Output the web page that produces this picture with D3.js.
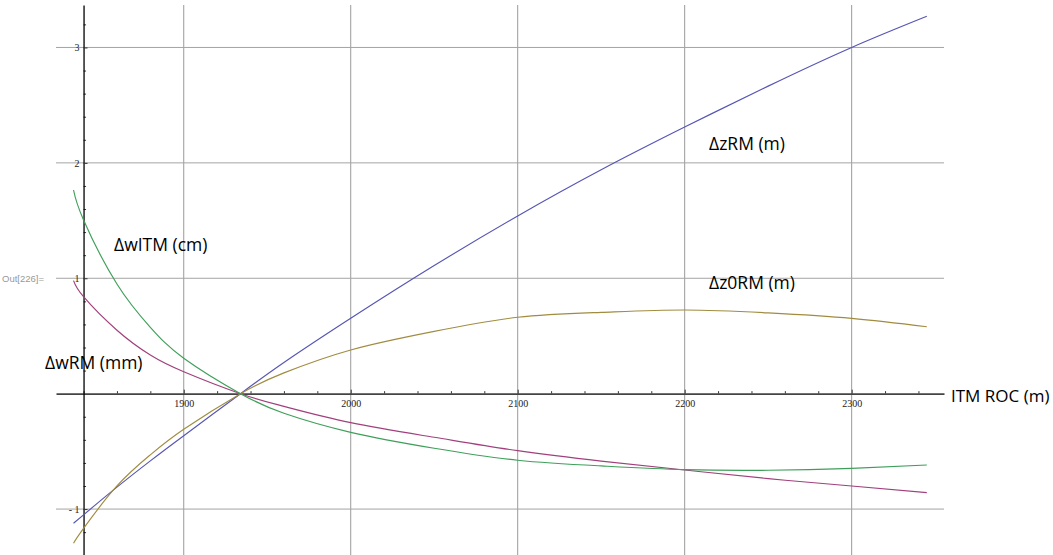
<!DOCTYPE html>
<html>
<head>
<meta charset="utf-8">
<script src="https://cdn.jsdelivr.net/npm/d3@7"></script>
<style>
  html, body { margin: 0; padding: 0; background: #fff; }
  svg { display: block; }
</style>
</head>
<body>
<svg id="chart" width="1053" height="555"></svg>
<script>
// ---- data ----
const roc = [1834, 1840, 1860, 1880, 1900, 1934, 1960, 2000, 2050, 2100, 2150, 2200, 2250, 2300, 2345];
const dzRM   = [-1.123, -1.05, -0.81, -0.582, -0.364, 0, 0.27, 0.653, 1.11, 1.54, 1.94, 2.31, 2.665, 3.0, 3.27];
const dwRM   = [0.98, 0.84, 0.55, 0.335, 0.19, 0, -0.11, -0.251, -0.378, -0.494, -0.584, -0.661, -0.736, -0.80, -0.858];
const dz0RM  = [-1.296, -1.168, -0.80, -0.53, -0.309, 0, 0.18, 0.379, 0.54, 0.662, 0.705, 0.725, 0.70, 0.653, 0.58];
const dwITM  = [1.765, 1.505, 0.95, 0.575, 0.307, 0, -0.17, -0.335, -0.473, -0.577, -0.626, -0.658, -0.664, -0.647, -0.618];

const seriesNames = ["ΔzRM (m)", "ΔwRM (mm)", "Δz0RM (m)", "ΔwITM (cm)"];
const xTicks = [1900, 2000, 2100, 2200, 2300];
const yTicks = [-1, 1, 2, 3];
const xLabel = "ITM ROC (m)";
const outLabel = "Out[226]=";

// ---- layout ----
const svg = d3.select("#chart");
const x = d3.scaleLinear().domain([1823.5, 2355.3]).range([56, 944]);
const y = d3.scaleLinear().domain([-1.398, 3.368]).range([555, 5]);
const x0 = x(1840); // vertical axis position
const y0 = y(0);

const colors = ["#5656b4", "#a0407c", "#a08c40", "#3f9f5a"];
const seriesVals = [dzRM, dwRM, dz0RM, dwITM];

// grid lines
const grid = svg.append("g");
grid.selectAll("line.vx").data(xTicks).join("line")
  .attr("x1", d => x(d)).attr("x2", d => x(d))
  .attr("y1", y.range()[1]).attr("y2", y.range()[0])
  .attr("stroke", "#9a9a9a").attr("stroke-width", 1);
grid.selectAll("line.hy").data(yTicks).join("line")
  .attr("y1", d => y(d)).attr("y2", d => y(d))
  .attr("x1", x.range()[0]).attr("x2", x.range()[1])
  .attr("stroke", "#a4a4a4").attr("stroke-width", 1);

// x axis: minor ticks
const xMinor = d3.range(1840, 2355, 20).filter(v => v % 100 !== 0);
svg.append("g").attr("transform", `translate(0,${y0})`)
  .call(d3.axisBottom(x).tickValues(xMinor).tickSize(-2.5).tickSizeOuter(0).tickFormat(""))
  .call(g => g.select(".domain").remove())
  .call(g => g.selectAll(".tick line").attr("stroke", "#333"));

// x axis: major
const xAxis = svg.append("g").attr("transform", `translate(0,${y0})`)
  .call(d3.axisBottom(x).tickValues(xTicks).tickSize(-4).tickSizeOuter(0).tickPadding(6).tickFormat(d3.format("d")));
xAxis.select(".domain").attr("stroke", "#444").attr("stroke-width", 1.6);
xAxis.selectAll(".tick line").attr("stroke", "#333");
xAxis.selectAll(".tick text")
  .attr("font-family", "'Liberation Serif', 'DejaVu Serif', serif")
  .attr("font-size", 10).attr("fill", "#222");

// y axis: minor ticks
const yMinor = d3.range(-1.4, 3.4, 0.2).map(v => Math.round(v * 10) / 10).filter(v => Math.abs(v - Math.round(v)) > 1e-6);
svg.append("g").attr("transform", `translate(${x0},0)`)
  .call(d3.axisLeft(y).tickValues(yMinor).tickSize(-2.5).tickSizeOuter(0).tickFormat(""))
  .call(g => g.select(".domain").remove())
  .call(g => g.selectAll(".tick line").attr("stroke", "#333"));

// y axis: major
const yAxis = svg.append("g").attr("transform", `translate(${x0},0)`)
  .call(d3.axisLeft(y).tickValues(yTicks).tickSize(-4).tickSizeOuter(0).tickPadding(4)
    .tickFormat(d => d < 0 ? "- " + Math.abs(d) : String(d)));
yAxis.select(".domain").attr("stroke", "#000").attr("stroke-width", 1.3);
yAxis.selectAll(".tick line").attr("stroke", "#333");
yAxis.selectAll(".tick text")
  .attr("font-family", "'Liberation Serif', 'DejaVu Serif', serif")
  .attr("font-size", 10).attr("fill", "#222");

// curves
const line = d3.line().x(d => x(d[0])).y(d => y(d[1])).curve(d3.curveNatural);
seriesVals.forEach((vals, i) => {
  svg.append("path")
    .datum(roc.map((r, j) => [r, vals[j]]))
    .attr("d", line)
    .attr("fill", "none")
    .attr("stroke", colors[i])
    .attr("stroke-width", 1.15);
});

// labels
const lab = svg.append("g")
  .attr("font-family", "'Open Sans', 'Noto Sans', sans-serif")
  .attr("font-size", 17.5).attr("fill", "#000");
const labelPos = [[709, 150], [45, 369], [709, 289], [114, 251]];
seriesNames.forEach((t, i) => {
  lab.append("text").attr("x", labelPos[i][0]).attr("y", labelPos[i][1]).text(t);
});
lab.append("text").attr("x", 951).attr("y", 402).attr("font-size", 17).text(xLabel);

svg.append("text").attr("x", 2).attr("y", 282)
  .attr("font-family", "'Liberation Sans', Arial, sans-serif")
  .attr("font-size", 9.5).attr("fill", "#999").text(outLabel);
</script>
</body>
</html>
